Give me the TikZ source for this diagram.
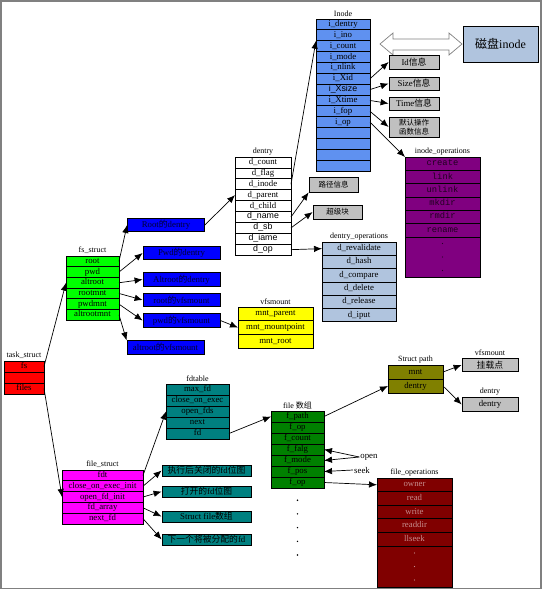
\documentclass[tikz,border=0pt]{standalone}
\usepackage{fontspec}
\setmainfont{Liberation Serif}
\setsansfont{Liberation Sans}
\setmonofont{Liberation Mono}
\newfontfamily\cjk{Noto Sans CJK SC}
\usetikzlibrary{calc,chains,positioning,arrows.meta}

\definecolor{taskred}{RGB}{255,0,0}
\definecolor{fsgreen}{RGB}{0,255,0}
\definecolor{refblue}{RGB}{0,0,255}
\definecolor{inodeblue}{RGB}{95,145,240}
\definecolor{steelblue}{RGB}{176,196,222}
\definecolor{opspurple}{RGB}{128,0,128}
\definecolor{mntyellow}{RGB}{255,255,0}
\definecolor{filesmagenta}{RGB}{255,0,255}
\definecolor{fdtteal}{RGB}{0,128,128}
\definecolor{filegreen}{RGB}{0,128,0}
\definecolor{patholive}{RGB}{128,128,0}
\definecolor{fopsred}{RGB}{128,0,0}
\definecolor{infogray}{RGB}{192,192,192}

\begin{document}
\begin{tikzpicture}[
    x=1pt,y=-1pt,
    font=\fontsize{8.8}{10}\selectfont,
    node distance=0pt,
    field/.style={
      draw,
      on chain,
      anchor=north,
      line width=0.8pt,
      inner sep=0pt,
      outer sep=0pt,
      text height=5.8pt,
      text depth=1.8pt,
    },
    info/.style={
      draw,
      line width=0.8pt,
      inner sep=0pt,
      align=center,
    },
    title/.style={inner sep=1pt,font=\fontsize{8}{9}\selectfont},
    ptr/.style={-{Latex[length=8pt,width=6.5pt]},line width=0.7pt},
  ]
  \useasboundingbox (0,0) rectangle (542,590);
  \draw[gray,line width=1.2pt] (1,1) rectangle (541,588.5);

  % Inode
  \begin{scope}[
    inode node/.style={field,fill=inodeblue,minimum width=54pt,minimum height=10.86pt},
    start chain=going below,
    ]
    \node[inode node] (inode-dentry) at (343,19) {i\_dentry};
    \node[inode node] (inode-ino)    {i\_ino};
    \node[inode node] (inode-count)  {i\_count};
    \node[inode node] (inode-mode)   {i\_mode};
    \node[inode node] (inode-nlink)  {i\_nlink};
    \node[inode node] (inode-xid)    {i\_Xid};
    \node[inode node] (inode-xsize)  {\sffamily i\_Xsize};
    \node[inode node] (inode-xtime)  {i\_Xtime};
    \node[inode node] (inode-fop)    {i\_fop};
    \node[inode node] (inode-op)     {i\_op};
    \node[inode node] (inode-blank-1) {};
    \node[inode node] (inode-blank-2) {};
    \node[inode node] (inode-blank-3) {};
    \node[inode node] (inode-blank-4) {};
  \end{scope}
  \node[title,above=1pt of inode-dentry] (inode-title) {Inode};

  \node[info,fill=steelblue,minimum width=75pt,minimum height=36pt,
        font=\fontsize{12}{14}\selectfont] (disk-inode) at (500.5,44) {{\cjk 磁盘}inode};
  \path[draw=gray,fill=white,line width=0.7pt] (380,44) -- (393,33) -- (393,39) -- (449,39)
    -- (449,33) -- (462,44) -- (449,55) -- (449,50) -- (393,50) -- (393,55) -- cycle;

  \begin{scope}[every node/.style={info,fill=infogray,minimum width=50pt}]
    \node[minimum height=14pt] (id-info)   at (414,62)    {Id{\cjk 信息}};
    \node[minimum height=13pt] (size-info) at (414,83.5)  {Size{\cjk 信息}};
    \node[minimum height=13pt] (time-info) at (414,103.5) {Time{\cjk 信息}};
    \node[minimum height=20pt,font=\cjk\fontsize{7.5}{8.5}\selectfont] (fop-info) at (414,127)
      {默认操作\\函数信息};
  \end{scope}

  % inode_operations
  \begin{scope}[
    iops node/.style={field,fill=opspurple,minimum width=75pt,minimum height=13.33pt,
      text=black!75!opspurple,font=\ttfamily\fontsize{8.8}{10}\selectfont},
    start chain=going below,
    ]
    \node[iops node] (iops-create) at (442.5,157) {create};
    \node[iops node] (iops-link)   {link};
    \node[iops node] (iops-unlink) {unlink};
    \node[iops node] (iops-mkdir)  {mkdir};
    \node[iops node] (iops-rmdir)  {rmdir};
    \node[iops node] (iops-rename) {rename};
    \node[iops node,minimum height=40pt] (iops-more) {};
  \end{scope}
  \node[title,above=1pt of iops-create] (iops-title) {inode\_operations};

  % dentry
  \begin{scope}[
    dentry node/.style={field,fill=white,minimum width=56pt,minimum height=10.9pt},
    start chain=going below,
    ]
    \node[dentry node] (dentry-count)  at (263,157) {d\_count};
    \node[dentry node] (dentry-flag)   {d\_flag};
    \node[dentry node] (dentry-inode)  {d\_inode};
    \node[dentry node] (dentry-parent) {d\_parent};
    \node[dentry node] (dentry-child)  {d\_child};
    \node[dentry node] (dentry-name)   {\sffamily d\_name};
    \node[dentry node] (dentry-sb)     {\sffamily d\_sb};
    \node[dentry node] (dentry-iame)   {\sffamily d\_iame};
    \node[dentry node] (dentry-op)     {\sffamily d\_op};
  \end{scope}
  \node[title,above=1pt of dentry-count] (dentry-title) {dentry};

  \begin{scope}[every node/.style={info,fill=infogray,minimum width=49pt,font=\cjk\fontsize{7.5}{8.5}\selectfont}]
    \node[minimum height=15pt] (path-info)  at (333.5,184.5) {路径信息};
    \node[minimum height=14pt] (super-info) at (337.5,212)   {超级块};
  \end{scope}

  % dentry_operations
  \begin{scope}[
    dops node/.style={field,fill=steelblue,minimum width=74pt,minimum height=13.3pt},
    start chain=going below,
    ]
    \node[dops node] (dops-revalidate) at (359,242) {d\_revalidate};
    \node[dops node] (dops-hash)    {d\_hash};
    \node[dops node] (dops-compare) {d\_compare};
    \node[dops node] (dops-delete)  {d\_delete};
    \node[dops node] (dops-release) {d\_release};
    \node[dops node] (dops-iput)    {d\_iput};
  \end{scope}
  \node[title,above=1pt of dops-revalidate] (dops-title) {dentry\_operations};

  % vfsmount
  \begin{scope}[
    mnt node/.style={field,fill=mntyellow,minimum width=75pt,minimum height=13.7pt},
    start chain=going below,
    ]
    \node[mnt node] (mnt-parent)     at (275.5,307) {mnt\_parent};
    \node[mnt node] (mnt-mountpoint) {mnt\_mountpoint};
    \node[mnt node] (mnt-root)       {mnt\_root};
  \end{scope}
  \node[title,above=1pt of mnt-parent] (mnt-title) {vfsmount};

  % fs_struct
  \begin{scope}[
    fs node/.style={field,fill=fsgreen,minimum width=53pt,minimum height=10.7pt},
    start chain=going below,
    ]
    \node[fs node] (fs-root)       at (92.5,256) {root};
    \node[fs node] (fs-pwd)        {pwd};
    \node[fs node] (fs-altroot)    {altroot};
    \node[fs node] (fs-rootmnt)    {rootmnt};
    \node[fs node] (fs-pwdmnt)     {pwdmnt};
    \node[fs node] (fs-altrootmnt) {altrootmnt};
  \end{scope}
  \node[title,above=1pt of fs-root] (fs-title) {fs\_struct};

  \begin{scope}[every node/.style={info,fill=refblue,minimum width=77pt,minimum height=13.5pt,
      text=black!80!refblue}]
    \node (root-dentry)    at (166,225)   {Root{\cjk 的}dentry};
    \node (pwd-dentry)     at (181.5,253) {Pwd{\cjk 的}dentry};
    \node (altroot-dentry) at (181.5,279.5) {Altroot{\cjk 的}dentry};
    \node (root-mnt)       at (181.5,300) {root{\cjk 的}vfsmount};
    \node (pwd-mnt)        at (181.5,320.5) {pwd{\cjk 的}vfsmount};
    \node (altroot-mnt)    at (165.5,347.5) {altroot{\cjk 的}vfsmount};
  \end{scope}

  % task_struct
  \begin{scope}[
    task node/.style={field,fill=taskred,minimum width=40pt,minimum height=11pt},
    start chain=going below,
    ]
    \node[task node] (task-fs)    at (24,361) {fs};
    \node[task node] (task-blank) {};
    \node[task node] (task-files) {files};
  \end{scope}
  \node[title,above=1pt of task-fs] (task-title) {task\_struct};

  % file_struct
  \begin{scope}[
    files node/.style={field,fill=filesmagenta,minimum width=81pt,minimum height=10.8pt},
    start chain=going below,
    ]
    \node[files node] (files-fdt)     at (102.5,470) {fdt};
    \node[files node] (files-cloexec) {close\_on\_exec\_init};
    \node[files node] (files-openfd)  {open\_fd\_init};
    \node[files node] (files-fdarray) {fd\_array};
    \node[files node] (files-nextfd)  {next\_fd};
  \end{scope}
  \node[title,above=1pt of files-fdt] (files-title) {file\_struct};

  \begin{scope}[every node/.style={info,fill=fdtteal,minimum width=89pt,minimum height=11pt}]
    \node (cloexec-info)   at (206.5,470.5) {{\cjk 执行后关闭的}fd{\cjk 位图}};
    \node (openfd-info)    at (206.5,491.5) {{\cjk 打开的}fd{\cjk 位图}};
    \node (filearray-info) at (206.5,516.5) {Struct file{\cjk 数组}};
    \node (nextfd-info)    at (206.5,539.5) {{\cjk 下一个将被分配的}fd};
  \end{scope}

  % fdtable
  \begin{scope}[
    fdt node/.style={field,fill=fdtteal,minimum width=63pt,minimum height=11pt},
    start chain=going below,
    ]
    \node[fdt node] (fdt-maxfd)   at (197.5,384) {max\_fd};
    \node[fdt node] (fdt-cloexec) {close\_on\_exec};
    \node[fdt node] (fdt-openfds) {open\_fds};
    \node[fdt node] (fdt-next)    {next};
    \node[fdt node] (fdt-fd)      {fd};
  \end{scope}
  \node[title,above=1pt of fdt-maxfd] (fdt-title) {fdtable};

  % file array
  \begin{scope}[
    file node/.style={field,fill=filegreen,minimum width=53pt,minimum height=11pt},
    start chain=going below,
    ]
    \node[file node] (file-path)  at (297.5,411) {f\_path};
    \node[file node] (file-op)    {f\_op};
    \node[file node] (file-count) {f\_count};
    \node[file node] (file-falg)  {f\_falg};
    \node[file node] (file-mode)  {f\_mode};
    \node[file node] (file-pos)   {f\_pos};
    \node[file node] (file-op2)   {f\_op};
  \end{scope}
  \node[title,above=1pt of file-path] (file-title) {file {\cjk 数组}};

  % Struct path
  \begin{scope}[
    path node/.style={field,fill=patholive,minimum width=55pt,minimum height=14pt},
    start chain=going below,
    ]
    \node[path node] (path-mnt)    at (415.5,365) {mnt};
    \node[path node] (path-dentry) {dentry};
  \end{scope}
  \node[title,above=1pt of path-mnt] (path-title) {Struct path};

  \begin{scope}[every node/.style={info,fill=infogray,minimum width=56pt,minimum height=13.5pt}]
    \node (mount-info)   at (490,365)   {{\cjk 挂载点}};
    \node (gdentry-info) at (490,404.5) {dentry};
  \end{scope}
  \node[title,above=1pt of mount-info] (gmnt-title) {vfsmount};
  \node[title,above=1pt of gdentry-info] (gdentry-title) {dentry};

  % file_operations
  \begin{scope}[
    fops node/.style={field,fill=fopsred,minimum width=75pt,minimum height=13.6pt,text=fopsred!45!white},
    start chain=going below,
    ]
    \node[fops node] (fops-owner)   at (414.5,478) {owner};
    \node[fops node] (fops-read)    {read};
    \node[fops node] (fops-write)   {write};
    \node[fops node] (fops-readdir) {readdir};
    \node[fops node] (fops-llseek)  {llseek};
    \node[fops node,minimum height=41pt] (fops-more) {};
  \end{scope}
  \node[title,above=1pt of fops-owner] (fops-title) {file\_operations};

  \node[inner sep=1pt] (open) at (369,457) {open};
  \node[inner sep=1pt] (seek) at (362,470) {seek};

  % dots
  \foreach \k in {-1,0,1} {
    \fill[black!70!opspurple] ($(iops-more.center)+(0,13.5*\k)$) circle (0.7pt);
    \fill[fopsred!45!white] ($(fops-more.center)+(0,13.5*\k)$) circle (0.7pt);
  }
  \foreach \k in {1,...,5}
    \fill ($(file-op2.south)+(0,13.7*\k-1.5)$) circle (0.8pt);

  % pointers
  \begin{scope}[every path/.style={draw,ptr}]
    \path (task-fs.east) -- (fs-altroot.west);
    \path (task-files.east) -- (files-openfd.west);
    \path (fs-root.east) -- (root-dentry.west);
    \path (fs-pwd.east) -- (pwd-dentry.west);
    \path (fs-altroot.east) -- (altroot-dentry.west);
    \path (fs-rootmnt.east) -- (root-mnt.west);
    \path (fs-pwdmnt.east) -- (pwd-mnt.west);
    \path (fs-altrootmnt.east) -- (altroot-mnt.north west);
    \path (root-dentry.east) -- (dentry-parent.west);
    \path (pwd-mnt.east) -- (mnt-mountpoint.west);
    \path (dentry-inode.east) -- (inode-count.north west);
    \path (dentry-name.east) -- (path-info.south west);
    \path (dentry-sb.east) -- (super-info.west);
    \path (dentry-op.east) -- (dops-revalidate.west);
    \path (inode-xid.east) -- (id-info.west);
    \path (inode-xsize.east) -- (size-info.west);
    \path (inode-xtime.east) -- (time-info.west);
    \path (inode-fop.east) -- (fop-info.west);
    \path (inode-op.east) -- (iops-create.north west);
    \path (files-fdt.east) -- (fdt-openfds.west);
    \path (files-cloexec.east) -- (cloexec-info.west);
    \path (files-openfd.east) -- (openfd-info.west);
    \path (files-fdarray.east) -- (filearray-info.west);
    \path (files-nextfd.east) -- (nextfd-info.west);
    \path (fdt-fd.east) -- (file-path.west);
    \path (file-path.east) -- (path-dentry.west);
    \path (path-mnt.east) -- (mount-info.west);
    \path (path-dentry.east) -- (gdentry-info.west);
    \path (open.west) -- (file-falg.east);
    \path (open.west) -- (file-mode.east);
    \path (seek.west) -- (file-pos.east);
    \path (file-op2.east) -- (fops-owner.west);
  \end{scope}
\end{tikzpicture}
\end{document}
